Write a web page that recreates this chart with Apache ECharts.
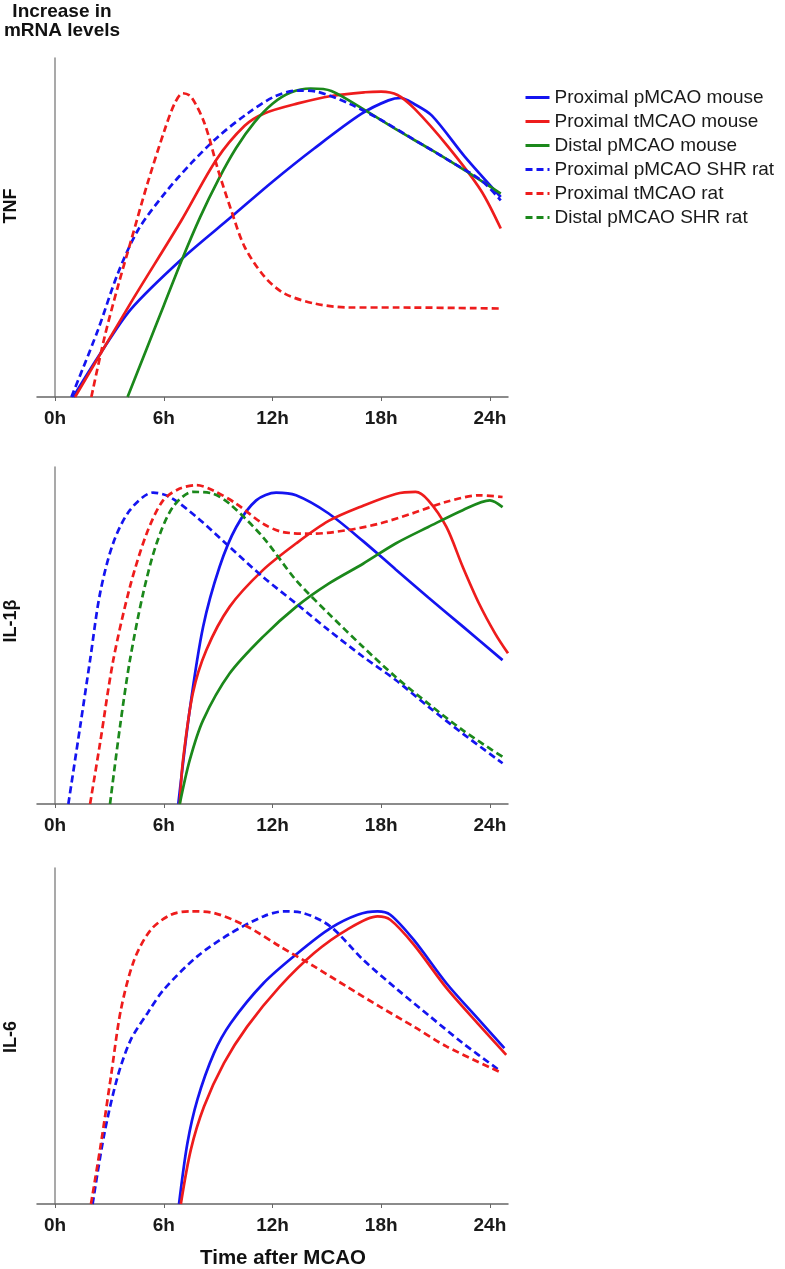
<!DOCTYPE html>
<html>
<head>
<meta charset="utf-8">
<script src="https://cdn.jsdelivr.net/npm/echarts@6/dist/echarts.min.js"></script>
<style>
  html, body { margin: 0; padding: 0; background: #fff; }
  #chart { width: 785px; height: 1269px; }
</style>
</head>
<body>
<div id="chart"></div>
<script>
// time points (h) and relative mRNA level (0-100)
var hourTicks = [0, 6, 12, 18, 24];
var panelNames = ['TNF', 'IL-1\u03b2', 'IL-6'];
var seriesNames = ['Proximal pMCAO mouse', 'Proximal tMCAO mouse', 'Distal pMCAO mouse',
                   'Proximal pMCAO SHR rat', 'Proximal tMCAO rat', 'Distal pMCAO SHR rat'];

// TNF
var tnfPmcaoMouse = [[1.0,0],[2.4,12],[4.2,26],[7.05,41],[9.7,53],[12.0,63.5],[14.3,73.3],[16.9,83.5],[18.4,87.5],[19.1,88.2],[19.8,86.5],[20.8,83],[22.6,71],[24.6,59]];
var tnfTmcaoMouse = [[1.1,0],[4.2,28],[6.96,52],[8.9,70],[10.46,80],[11.57,83.7],[13.4,86.6],[15.25,88.8],[17.1,89.9],[18.0,90.1],[18.9,89.1],[19.85,85],[21.7,73.8],[23.5,61],[24.6,49.7]];
var tnfDistalMouse = [[4.0,0],[5.0,13.5],[6.0,27],[7.0,40.5],[8.0,53],[9.0,64],[10.0,73.5],[11.0,81],[12.0,86.5],[13.0,89.8],[14.1,91],[15.25,90.3],[17.1,84.6],[18.9,78.7],[20.8,72.8],[22.6,66.9],[24.6,60]];
var tnfPmcaoRat = [[0.9,0],[2.36,19.7],[3.46,36.4],[4.57,49.2],[6.04,60],[7.5,68.9],[9.0,76.8],[10.64,83.7],[12.1,88.6],[13.4,90.4],[14.5,90],[16.2,86.6],[18.0,81.7],[19.85,75.8],[21.7,69.9],[23.5,64],[24.6,58]];
var tnfTmcaoRat = [[2.0,0],[2.73,17.7],[3.46,32.5],[4.2,46.3],[5.1,63],[6.04,78.7],[6.6,86.6],[7.05,89.6],[7.5,88.6],[8.25,80.7],[9.0,66.9],[9.72,55.1],[10.46,44.3],[11.57,35.4],[12.67,30.5],[14.3,27.6],[16.2,26.4],[18.9,26.4],[24.6,26.1]];

// IL-1beta
var il1PmcaoMouse = [[6.8,0],[7.43,27.9],[8.17,52.6],[9.08,70.4],[10.0,82.2],[11.1,90.1],[12.2,92.4],[13.3,91.6],[15.1,86.2],[17.0,78],[18.8,69.6],[20.6,61.3],[22.5,52.7],[24.7,42.7]];
var il1TmcaoMouse = [[6.88,0],[7.06,13],[7.6,32.8],[8.35,45.7],[9.63,58.5],[11.47,69.4],[13.3,77.3],[15.1,84],[17.0,88.5],[18.8,92],[19.9,92.6],[20.6,90.1],[21.6,82.2],[22.5,70.4],[23.4,59.5],[24.3,50.5],[25.0,44.7]];
var il1DistalMouse = [[6.88,0],[7.43,13],[8.17,24.9],[9.63,38.7],[11.47,49.6],[13.3,58.5],[15.1,65.4],[17.0,71.3],[18.8,77.3],[20.6,82.2],[22.5,87.2],[24.0,90.1],[24.7,88.1]];
var il1PmcaoRat = [[0.73,0],[1.38,22.9],[1.93,42.7],[2.48,62.5],[3.2,77.3],[4.13,87.2],[5.41,92.4],[6.33,91.1],[7.8,85.2],[9.63,76.3],[11.47,67.4],[13.3,59.5],[15.1,51.6],[17.0,43.7],[18.8,36.8],[20.6,28.9],[22.5,20.9],[24.7,12.1]];
var il1TmcaoRat = [[1.93,0],[2.48,18],[3.21,42.7],[4.13,64.4],[5.05,80.2],[5.96,90.1],[6.88,93.6],[7.8,94.6],[8.7,93.1],[10.0,89.1],[11.47,83.2],[12.57,80.7],[14.2,80.2],[16.05,81.2],[17.9,83.2],[19.7,86.2],[21.56,89.6],[23.4,91.6],[24.7,91.1]];
var il1DistalRat = [[3.03,0],[3.58,22.9],[4.13,42.7],[4.86,62.5],[5.6,77.3],[6.5,88.1],[7.6,92.6],[8.7,92.1],[9.63,89.1],[11.47,79.2],[13.3,66.4],[15.1,56.5],[17.0,46.6],[18.8,37.7],[20.6,29.8],[22.5,21.9],[24.7,14]];

// IL-6
var il6PmcaoMouse = [[6.84,0],[7.3,18],[7.85,31],[8.77,44.9],[9.69,53.8],[11.5,65.7],[13.4,74.7],[15.2,82.1],[16.7,86.1],[17.8,87.1],[18.5,86.1],[19.8,78.6],[21.6,65.7],[23.4,54.8],[24.8,46.4]];
var il6TmcaoMouse = [[6.94,0],[7.49,16.1],[8.22,29],[9.32,41.9],[10.6,52.8],[12.4,64.7],[14.3,74.7],[16.1,81.6],[17.8,85.6],[18.5,84.6],[19.8,77.2],[21.6,64.3],[23.4,53.3],[24.9,44.4]];
var il6PmcaoRat = [[2.07,0],[2.72,21],[3.45,37.9],[4.18,48.9],[5.1,56.8],[6.0,63.8],[7.85,73.7],[9.7,80.6],[11.5,85.6],[12.6,87.1],[13.7,86.6],[15.2,82.6],[17.0,72.7],[18.9,63.8],[20.7,55.8],[22.5,47.9],[24.5,39.9]];
var il6TmcaoRat = [[1.98,0],[2.53,18],[3.08,37.9],[3.63,57.8],[4.37,72.7],[5.28,81.6],[6.39,86.1],[7.49,87.1],[8.77,86.6],[10.6,82.6],[12.4,76.7],[14.3,70.7],[16.1,64.7],[17.9,58.8],[19.8,52.8],[21.6,46.9],[24.5,39.4]];

var BLUE = '#1414f0', RED = '#ee1c1c', GREEN = '#1b881b';
var seriesStyle = {
  'Proximal pMCAO mouse':   { color: BLUE,  type: 'solid' },
  'Proximal tMCAO mouse':   { color: RED,   type: 'solid' },
  'Distal pMCAO mouse':     { color: GREEN, type: 'solid' },
  'Proximal pMCAO SHR rat': { color: BLUE,  type: [7, 4] },
  'Proximal tMCAO rat':     { color: RED,   type: [7, 4] },
  'Distal pMCAO SHR rat':   { color: GREEN, type: [7, 4] }
};

// panel -> list of [name, data]
var panels = [
  [['Proximal pMCAO mouse', tnfPmcaoMouse], ['Proximal tMCAO mouse', tnfTmcaoMouse], ['Distal pMCAO mouse', tnfDistalMouse],
   ['Proximal pMCAO SHR rat', tnfPmcaoRat], ['Proximal tMCAO rat', tnfTmcaoRat]],
  [['Proximal pMCAO mouse', il1PmcaoMouse], ['Proximal tMCAO mouse', il1TmcaoMouse], ['Distal pMCAO mouse', il1DistalMouse],
   ['Proximal pMCAO SHR rat', il1PmcaoRat], ['Proximal tMCAO rat', il1TmcaoRat], ['Distal pMCAO SHR rat', il1DistalRat]],
  [['Proximal pMCAO mouse', il6PmcaoMouse], ['Proximal tMCAO mouse', il6TmcaoMouse],
   ['Proximal pMCAO SHR rat', il6PmcaoRat], ['Proximal tMCAO rat', il6TmcaoRat]]
];

var gridTops = [58, 467, 868];
var gridHeights = [339, 337, 336];
var nameY = [206, 621, 1037];
var labelFont = 'Liberation Sans, Arial, sans-serif';

var grids = [], xAxes = [], yAxes = [], series = [], graphics = [];
panels.forEach(function (p, i) {
  grids.push({ left: 37, top: gridTops[i], width: 471, height: gridHeights[i] });
  xAxes.push({
    gridIndex: i, type: 'value', min: -1, max: 25,
    axisLine: { lineStyle: { color: '#666', width: 1.5 } },
    axisTick: { show: true, customValues: hourTicks, length: 4, lineStyle: { color: '#666' } },
    axisLabel: { customValues: hourTicks, formatter: '{value}h', fontFamily: labelFont,
                 fontWeight: 'bold', fontSize: 19, color: '#1a1a1a', margin: 12 },
    splitLine: { show: false }
  });
  yAxes.push({
    gridIndex: i, type: 'value', min: 0, max: 100,
    axisLine: { show: true, lineStyle: { color: '#8c8c8c', width: 1.5 } },
    axisTick: { show: false }, axisLabel: { show: false }, splitLine: { show: false }
  });
  p.forEach(function (s) {
    var st = seriesStyle[s[0]];
    series.push({
      name: s[0], type: 'line', xAxisIndex: i, yAxisIndex: i,
      data: s[1], symbol: 'none', smooth: 0.3,
      lineStyle: { color: st.color, width: 2.7, type: st.type },
      itemStyle: { color: st.color },
      z: 3
    });
  });
  graphics.push({
    type: 'text', x: 11, y: nameY[i], rotation: Math.PI / 2,
    style: { text: panelNames[i], font: 'bold 18px ' + labelFont, fill: '#111',
             align: 'center', verticalAlign: 'middle' }
  });
});

graphics.push({
  type: 'text', x: 62, y: 2,
  style: { text: 'Increase in\nmRNA levels', font: 'bold 19px ' + labelFont, fill: '#111',
           align: 'center', lineHeight: 19 }
});
graphics.push({
  type: 'text', x: 283, y: 1258,
  style: { text: 'Time after MCAO', font: 'bold 20.5px ' + labelFont, fill: '#111',
           align: 'center', verticalAlign: 'middle' }
});

var chart = echarts.init(document.getElementById('chart'));
chart.setOption({
  animation: false,
  backgroundColor: '#fff',
  grid: grids,
  xAxis: xAxes,
  yAxis: yAxes,
  legend: {
    data: seriesNames, orient: 'vertical', left: 519, top: 83,
    itemWidth: 24, itemHeight: 14, itemGap: 5,
    itemStyle: { opacity: 0 },
    lineStyle: { width: 3 },
    textStyle: { fontFamily: labelFont, fontSize: 19, color: '#1a1a1a', lineHeight: 19 }
  },
  graphic: graphics,
  series: series
});
</script>
</body>
</html>
